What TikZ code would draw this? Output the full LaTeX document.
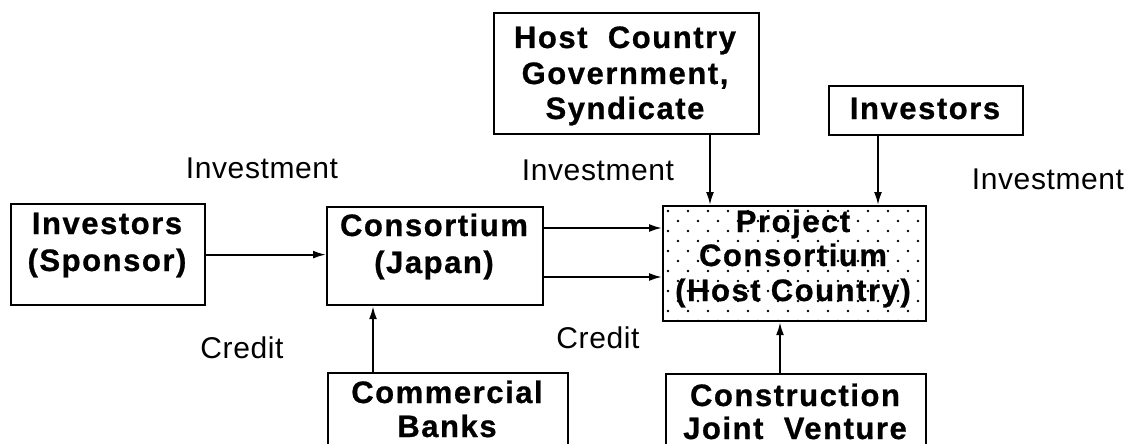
\documentclass[tikz,border=0pt]{standalone}
\usepackage{fontspec}
\setmainfont{Liberation Sans}
\newfontfamily\boxfont{Liberation Sans}[LetterSpace=5,FakeBold=0.8]
\newfontfamily\lblfont{Liberation Sans}[LetterSpace=2]
\usetikzlibrary{arrows.meta}
\tikzset{
  box/.style={draw, line width=2.2pt, inner sep=0pt, anchor=north west},
  bt/.style={font=\boxfont\bfseries\fontsize{31}{36}\selectfont, anchor=base, inner sep=0pt},
  lbl/.style={font=\lblfont\fontsize{30}{34}\selectfont, anchor=base, inner sep=0pt},
  arr/.style={line width=2pt, -{Latex[length=13pt,width=8pt]}},
}
\begin{document}
\begin{tikzpicture}[x=1pt,y=-1pt]
\useasboundingbox (0,0) rectangle (1133,444);
% boxes
\node[box, minimum width=194pt, minimum height=101pt] (spon) at (10,203) {};
\node[box, minimum width=216pt, minimum height=98pt] (jap) at (326,206) {};
\node[box, minimum width=265pt, minimum height=121pt] (host) at (493,12) {};
\node[box, minimum width=194pt, minimum height=49pt] (inv) at (828,85) {};
\node[box, minimum width=240pt, minimum height=110pt] (banks) at (327,372) {};
\node[box, minimum width=260pt, minimum height=110pt] (constr) at (665,373) {};
% project consortium with dots
\begin{scope}
\clip (662,205) rectangle (925,320);
\foreach \r in {0,...,11}{
  \foreach \c in {0,...,13}{
    \fill ({668+20*\c+10*mod(\r,2)},{211+10*\r}) circle (1.4pt);
  }
}
\end{scope}
\node[box, minimum width=263pt, minimum height=115pt] (proj) at (662,205) {};
% box texts
\node[bt] (spon1) at (107,234) {Investors};
\node[bt] (spon2) at (107,271) {(Sponsor)};
\node[bt] (jap1) at (434,236) {Consortium};
\node[bt] (jap2) at (434,273) {(Japan)};
\node[bt] (host1) at (625,48) {Host\ \ Country};
\node[bt] (host2) at (625,84) {Government,};
\node[bt] (host3) at (625,119) {Syndicate};
\node[bt] (inv1) at (925,119) {Investors};
\node[bt] (proj1) at (793,232) {Project};
\node[bt] (proj2) at (793,266) {Consortium};
\node[bt] (proj3) at (793,301) {(Host Country)};
\node[bt] (banks1) at (447,403) {Commercial};
\node[bt] (banks2) at (447,437) {Banks};
\node[bt] (constr1) at (795,406) {Construction};
\node[bt] (constr2) at (795,439) {Joint\ \ Venture};
% labels
\node[lbl] (l1) at (262,178) {Investment};
\node[lbl] (l2) at (598,180) {Investment};
\node[lbl] (l3) at (1048,189) {Investment};
\node[lbl] (l4) at (242,358) {Credit};
\node[lbl] (l5) at (598,348) {Credit};
% connectors
\coordinate (ya) at (0,228);
\coordinate (yb) at (0,277);
\coordinate (xh) at (710,0);
\coordinate (xi) at (878,0);
\coordinate (xb) at (373,0);
\coordinate (xc) at (780,0);
\draw[arr] (spon.east) -- (spon.east -| jap.west);
\draw[arr] (jap.east |- ya) -- (proj.west |- ya);
\draw[arr] (jap.east |- yb) -- (proj.west |- yb);
\draw[arr] (host.south -| xh) -- (proj.north -| xh);
\draw[arr] (inv.south -| xi) -- (proj.north -| xi);
\draw[arr] (banks.north -| xb) -- (jap.south -| xb);
\draw[arr] (constr.north -| xc) -- (proj.south -| xc);
\end{tikzpicture}
\end{document}
